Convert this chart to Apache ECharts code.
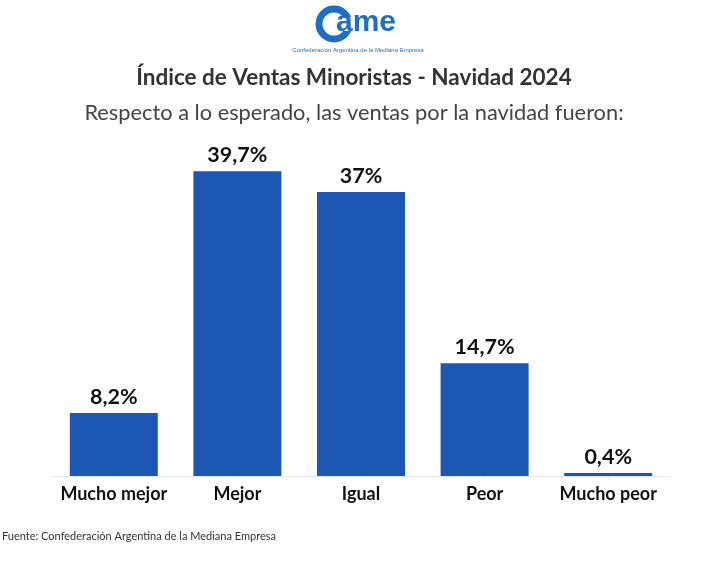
<!DOCTYPE html>
<html><head><meta charset="utf-8">
<script src="https://cdn.jsdelivr.net/npm/echarts@6/dist/echarts.min.js"></script>
<style>html,body{margin:0;padding:0;background:#fff}#c{width:708px;height:578px}</style>
</head><body><div id="c"></div>
<script>
const categories = ["Mucho mejor", "Mejor", "Igual", "Peor", "Mucho peor"];
const values = [8.2, 39.7, 37, 14.7, 0.4];
const valueLabels = ["8,2%", "39,7%", "37%", "14,7%", "0,4%"];
const titleText = "Índice de Ventas Minoristas - Navidad 2024";
const subtitleText = "Respecto a lo esperado, las ventas por la navidad fueron:";
const sourceText = "Fuente: Confederación Argentina de la Mediana Empresa";

const chart = echarts.init(document.getElementById('c'));
const FONT = "Lato, 'Noto Sans', sans-serif";
chart.setOption({
  animation: false,
  grid: {left: 52, right: 38, top: 169, bottom: 102},
  title: [
    {text: titleText, left: 'center', top: 61, textStyle: {fontFamily: FONT, fontSize: 22.5, fontWeight: 'bold', color: '#333'}},
    {text: subtitleText, left: 'center', top: 97, textStyle: {fontFamily: FONT, fontSize: 21.8, fontWeight: 'normal', color: '#444'}},
    {text: sourceText, left: -3, top: 526, textStyle: {fontFamily: FONT, fontSize: 11, fontWeight: 'normal', color: '#333'}}
  ],
  graphic: [
    {type: 'circle', shape: {cx: 334, cy: 24, r: 15}, style: {fill: 'none', stroke: '#1e6fc4', lineWidth: 7}},
    {type: 'rect', shape: {x: 341, y: 17, width: 12, height: 14}, style: {fill: '#fff'}},
    {type: 'text', x: 336, y: 8, style: {text: 'ame', font: "bold 30px 'Liberation Sans', Arial, sans-serif", fill: '#1e6fc4'}},
    {type: 'text', x: 358, y: 47, style: {text: 'Confederación Argentina de la Mediana Empresa', font: "6px 'Liberation Sans', sans-serif", fill: '#1e6fc4', align: 'center'}}
  ],
  xAxis: {
    type: 'category', data: categories,
    axisLine: {lineStyle: {color: '#e6e6e6', width: 1}},
    axisTick: {show: true, alignWithLabel: true, length: 3, lineStyle: {color: '#e6e6e6'}},
    axisLabel: {interval: 0, fontFamily: FONT, fontSize: 18, fontWeight: 'bold', color: '#111', margin: 9}
  },
  yAxis: {type: 'value', min: 0, max: 40, show: false, splitLine: {show: false}},
  series: [{
    type: 'bar', data: values, barWidth: 88,
    itemStyle: {color: '#1c58b3'},
    label: {show: true, position: 'top', distance: 5,
      formatter: p => valueLabels[p.dataIndex],
      fontFamily: FONT, fontSize: 21.5, fontWeight: 'bold', color: '#111'}
  }]
});
</script></body></html>
